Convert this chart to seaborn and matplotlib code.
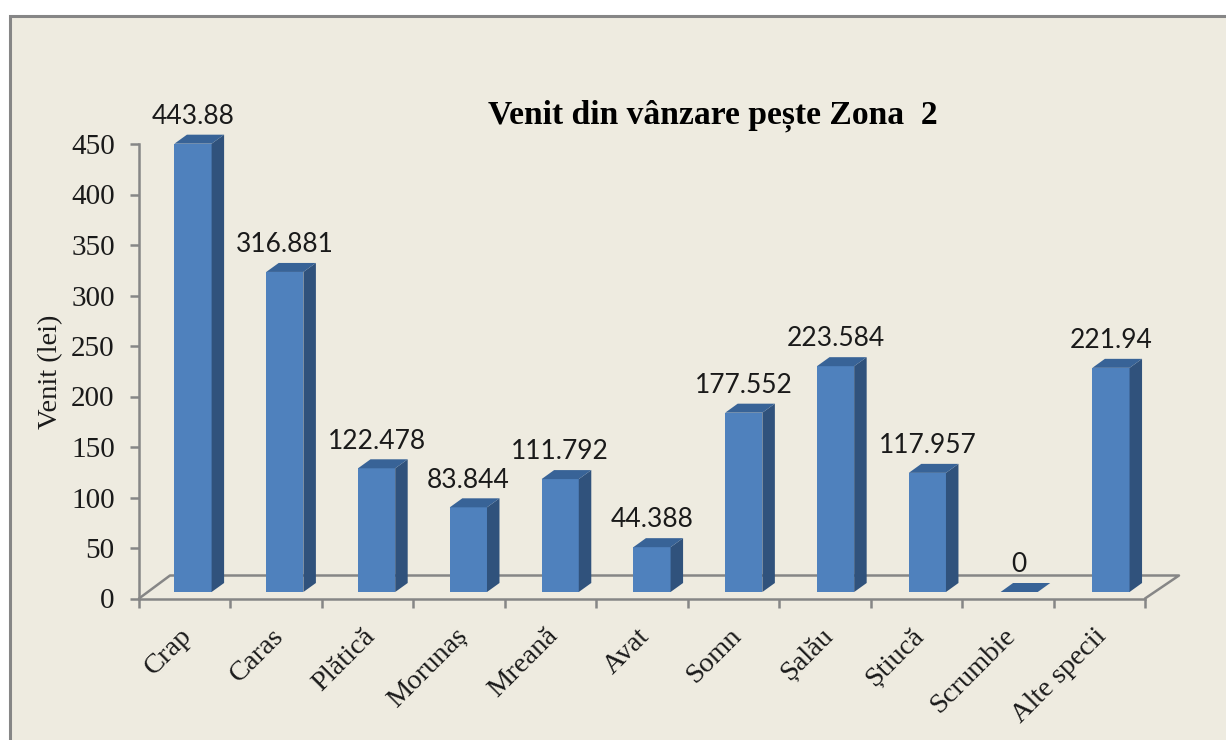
import matplotlib
matplotlib.use('Agg')
import matplotlib.pyplot as plt
import seaborn as sns
from matplotlib.lines import Line2D
from matplotlib.patches import Polygon, Rectangle
from matplotlib.transforms import Affine2D

species = ['Crap', 'Caras', 'Plătică', 'Morunaș', 'Mreană', 'Avat', 'Somn',
           'Șalău', 'Știucă', 'Scrumbie', 'Alte specii']
venit = [443.88, 316.881, 122.478, 83.844, 111.792, 44.388, 177.552,
         223.584, 117.957, 0, 221.94]
value_labels = ['443.88', '316.881', '122.478', '83.844', '111.792', '44.388',
                '177.552', '223.584', '117.957', '0', '221.94']
y_ticks = list(range(0, 451, 50))

W, H = 1226, 740
BG = '#EEEBE0'
GREY = '#868686'
FRONT = '#4F81BD'
SIDE = '#30527C'
TOP = '#386397'

sns.set_style('ticks')
plt.rcParams['font.family'] = ['Liberation Serif']

fig = plt.figure(figsize=(W / 100, H / 100), dpi=100, facecolor='white')
fig.add_artist(Rectangle((9.5 / W, -0.1), 1.2, 1.1 - 15.5 / H, transform=fig.transFigure,
                         facecolor=BG, edgecolor=GREY, linewidth=2.2, zorder=-2))

ax = fig.add_axes([139 / W, 1 - 598.5 / H, (1145 - 139) / W, (598.5 - 144) / H])
ax.patch.set_alpha(0)

sns.barplot(x=species, y=venit, color=FRONT, saturation=1, width=0.405, ax=ax, zorder=3,
            edgecolor='none', linewidth=0)
ax.set_xlim(-0.5, 10.5)
ax.set_ylim(0, 450)

# pseudo 3D: shift the bars back onto the floor and add side/top faces
shift = Affine2D().scale(1.00372, 1).translate(7.6, 6.5)
dx, dy = 12.5, 9
for bar, label in zip(list(ax.patches), value_labels):
    x0, x1 = bar.get_x(), bar.get_x() + bar.get_width()
    h = bar.get_height()
    bar.set_transform(ax.transData + shift)
    bar.set_clip_on(False)
    (ax0, ay0), (ax1, ay1) = shift.transform(ax.transData.transform([(x0, 0), (x1, h)]))
    ax.add_patch(Polygon([(ax1, ay0), (ax1 + dx, ay0 + dy), (ax1 + dx, ay1 + dy), (ax1, ay1)],
                         transform=None, facecolor=SIDE, edgecolor='none', zorder=3, clip_on=False))
    ax.add_patch(Polygon([(ax0, ay1), (ax1, ay1), (ax1 + dx, ay1 + dy), (ax0 + dx, ay1 + dy)],
                         transform=None, facecolor=TOP, edgecolor='none', zorder=3, clip_on=False))
    ax.annotate(label, xy=((ax0 + ax1) / 2, ay1), xycoords='figure pixels',
                xytext=(0, 14.2), textcoords='offset points', ha='center', va='baseline',
                fontsize=19, family='Lato', color='#1a1a1a', annotation_clip=False)

# floor outline
(fx0, fy0), (fx1, fy1) = ax.transData.transform([(-0.5, 0), (10.5, 0)])
fig.add_artist(Line2D([fx0, fx0 + 31, fx1 + 34, fx1],
                      [fy0, fy0 + 23, fy1 + 23, fy1],
                      transform=None, color=GREY, linewidth=1.8, zorder=-1))

for side in ['top', 'right']:
    ax.spines[side].set_visible(False)
for side in ['left', 'bottom']:
    ax.spines[side].set_color(GREY)
    ax.spines[side].set_linewidth(1.8)

ax.set_yticks(y_ticks)
ax.tick_params(axis='y', length=6.5, width=1.8, color=GREY, labelsize=21, pad=11, labelcolor='#1a1a1a')
ax.set_xticks(range(len(species)))
ax.set_xticklabels(species, rotation=45, ha='right', rotation_mode='anchor',
                   fontsize=20.5, color='#1a1a1a')
ax.tick_params(axis='x', which='major', length=0, pad=18)
for tick_label in ax.get_xticklabels():
    tick_label.set_transform(tick_label.get_transform() + Affine2D().translate(-5, 0))
ax.set_xticks([i - 0.5 for i in range(len(species) + 1)], minor=True)
ax.tick_params(axis='x', which='minor', length=6.5, width=1.8, color=GREY)

ax.set_ylabel('Venit (lei)', fontsize=20.5, color='#1a1a1a')
ax.yaxis.set_label_coords(63 / W, 1 - 371.5 / H, transform=fig.transFigure)
fig.text(713 / W, 1 - 116 / H, 'Venit din vânzare pește Zona  2', ha='center', va='center',
         fontsize=24.2, fontweight='bold', color='black')

fig.savefig('out.png', dpi=100, facecolor=fig.get_facecolor())
